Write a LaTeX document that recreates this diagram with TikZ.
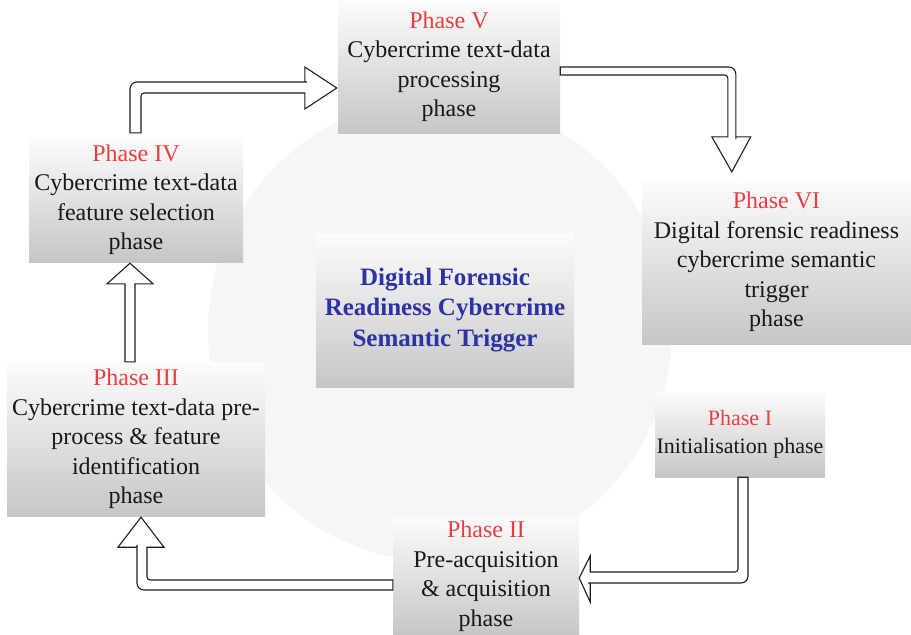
\documentclass[tikz,border=0pt]{standalone}
\usepackage{fontspec}
\setmainfont{Liberation Serif}
\usetikzlibrary{calc}
\definecolor{phred}{RGB}{232,62,66}
\definecolor{cblue}{RGB}{45,50,165}
\definecolor{arrline}{RGB}{30,30,30}
\definecolor{boxtop}{RGB}{252,252,252}
\definecolor{boxbot}{RGB}{198,198,198}
\definecolor{circfill}{RGB}{246,246,246}
\begin{document}
\begin{tikzpicture}[x=1pt,y=-1pt,
  phasebox/.style={rectangle, inner sep=0pt, top color=boxtop, bottom color=boxbot,
    align=center, font=\fontsize{24}{29.5}\selectfont, text=black!90},
  centerbox/.style={rectangle, inner sep=0pt, top color=boxtop, bottom color=boxbot,
    align=center, font=\fontsize{25}{30.5}\selectfont\bfseries, text=cblue},
  blockarrow/.style={draw=arrline, fill=white, line width=1.1pt, line join=miter}]
\useasboundingbox (0,0) rectangle (911,635);
\fill[circfill] (440,330) circle[radius=232pt];

\node[phasebox, minimum width=222pt, minimum height=133pt] (V) at (449,66.5)
  {\textcolor{phred}{Phase V}\\Cybercrime text-data\\processing\\phase};
\node[phasebox, minimum width=214pt, minimum height=125pt] (IV) at (136,199.5)
  {\textcolor{phred}{Phase IV}\\Cybercrime text-data\\feature selection\\phase};
\node[phasebox, minimum width=269pt, minimum height=164pt] (VI) at (776.5,262)
  {\textcolor{phred}{Phase VI}\\Digital forensic readiness\\cybercrime semantic\\trigger\\phase};
\node[phasebox, minimum width=258pt, minimum height=154pt] (III) at (136,439)
  {\textcolor{phred}{Phase III}\\Cybercrime text-data pre-\\process \& feature\\identification\\phase};
\node[phasebox, minimum width=186pt, minimum height=118pt] (II) at (486,576)
  {\textcolor{phred}{Phase II}\\Pre-acquisition\\\& acquisition\\phase};
\node[phasebox, font=\fontsize{22}{28}\selectfont, minimum width=170pt, minimum height=85pt] (I) at (740,434.5)
  {\textcolor{phred}{Phase I}\\Initialisation phase};
\node[centerbox, minimum width=258pt, minimum height=154pt] (C) at (445,310)
  {Digital Forensic\\Readiness Cybercrime\\Semantic Trigger};

% Phase I -> Phase II
\draw[blockarrow] ($(I.south)+(8,0)$) [rounded corners=7pt] |- ($(II.east)+(16,7)$) [sharp corners]
  -- ($(II.east)+(11,7)$) -- ($(II.east)+(11,26)$) -- ($(II.east)+(0,2)$)
  -- ($(II.east)+(11,-20)$) -- ($(II.east)+(11,-4)$) -- ($(II.east)+(16,-4)$)
  [rounded corners=3pt] -| ($(I.south)+(-2,5)$) [sharp corners] -- ($(I.south)+(-2,0)$) -- cycle;

% Phase II -> Phase III
\draw[blockarrow] ($(II.west)+(0,14)$) [rounded corners=7pt] -| ($(III.south)+(1,36)$) [sharp corners]
  -- ($(III.south)+(1,31)$) -- ($(III.south)+(-18,31)$) -- ($(III.south)+(5,1)$)
  -- ($(III.south)+(28,31)$) -- ($(III.south)+(11,31)$) -- ($(III.south)+(11,36)$)
  [rounded corners=3pt] |- ($(II.west)+(-5,4)$) [sharp corners] -- ($(II.west)+(0,4)$) -- cycle;

% Phase III -> Phase IV
\draw[blockarrow] ($(III.north)+(-11,0)$) -- ($(III.north)+(-11,-78)$) -- ($(III.north)+(-29,-78)$)
  -- ($(IV.south)+(-6,1)$) -- ($(III.north)+(17,-78)$) -- ($(III.north)+(-1,-78)$)
  -- ($(III.north)+(-1,0)$) -- cycle;

% Phase IV -> Phase V
\draw[blockarrow] ($(IV.north)+(-6,-4)$) [rounded corners=7pt] |- ($(V.west)+(-38,15.5)$) [sharp corners]
  -- ($(V.west)+(-33,15.5)$) -- ($(V.west)+(-33,0.5)$) -- ($(V.west)+(-1,21.5)$)
  -- ($(V.west)+(-33,42.5)$) -- ($(V.west)+(-33,26.5)$) -- ($(V.west)+(-38,26.5)$)
  [rounded corners=3pt] -| ($(IV.north)+(5,-9)$) [sharp corners] -- ($(IV.north)+(5,-4)$) -- cycle;

% Phase V -> Phase VI
\draw[blockarrow] ($(V.east)+(0,0.5)$) [rounded corners=7pt] -| ($(VI.north west)+(94,-48)$) [sharp corners]
  -- ($(VI.north west)+(94,-43)$) -- ($(VI.north west)+(109,-43)$) -- ($(VI.north west)+(90,-8)$)
  -- ($(VI.north west)+(70,-43)$) -- ($(VI.north west)+(86,-43)$) -- ($(VI.north west)+(86,-48)$)
  [rounded corners=3pt] |- ($(V.east)+(5,8.5)$) [sharp corners] -- ($(V.east)+(0,8.5)$) -- cycle;
\end{tikzpicture}
\end{document}
